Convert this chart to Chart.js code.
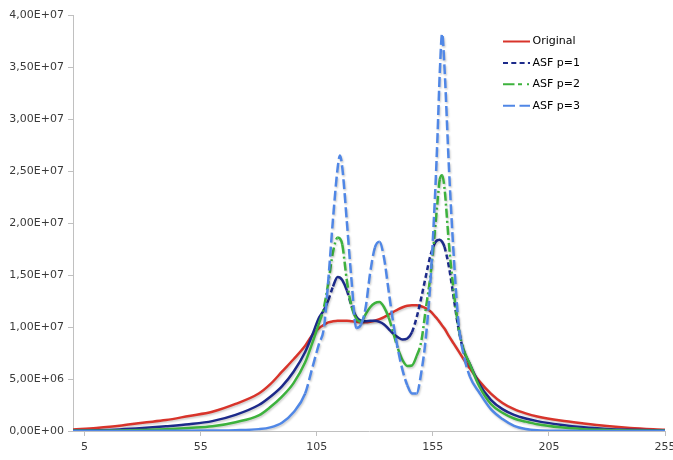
<!DOCTYPE html>
<html><head><meta charset="utf-8">
<script src="https://cdn.jsdelivr.net/npm/chart.js@4.4.1/dist/chart.umd.min.js"></script>
<style>
html,body{margin:0;padding:0;overflow:hidden;background:#fff;width:673px;height:460px}
#wrap{position:relative;width:690px;height:460px}
</style></head>
<body><div id="wrap"><canvas id="c" width="690" height="460"></canvas></div>
<script>
// ---- data ----
const xValues = [0,10,20,30,40,50,60,70,80,85,90,95,
  100,103,106,108,110,112,114,115,116,118,120,
  122,124,126,128,130,132,134,136,138,140,142,144,146,148,150,152,154,156,
  157,158,159,160,162,164,166,168,171,175,180,185,190,195,200,210,220,230,240,255];

const original = [0.15e6,0.3e6,0.5e6,0.8e6,1.05e6,1.45e6,1.85e6,2.6e6,3.6e6,4.5e6,5.7e6,6.9e6,
  8.2e6,9.2e6,9.9e6,10.2e6,10.45e6,10.55e6,10.6e6,10.6e6,10.6e6,10.6e6,10.55e6,
  10.5e6,10.45e6,10.45e6,10.5e6,10.6e6,10.75e6,10.95e6,11.2e6,11.45e6,11.7e6,11.9e6,12.05e6,12.1e6,12.1e6,12.0e6,11.8e6,11.5e6,11.0e6,
  10.75e6,10.45e6,10.15e6,9.85e6,9.1e6,8.4e6,7.7e6,7.0e6,6.0e6,4.8e6,3.6e6,2.7e6,2.1e6,1.7e6,1.4e6,1.0e6,0.72e6,0.48e6,0.3e6,0.12e6];

const asfP1 = [0.05e6,0.08e6,0.15e6,0.28e6,0.45e6,0.65e6,0.95e6,1.55e6,2.5e6,3.3e6,4.3e6,5.7e6,
  7.6e6,9.2e6,10.9e6,11.6e6,12.6e6,13.9e6,14.8e6,14.75e6,14.5e6,13.5e6,12.0e6,
  11.0e6,10.6e6,10.55e6,10.6e6,10.6e6,10.5e6,10.25e6,9.8e6,9.35e6,9.0e6,8.8e6,8.9e6,9.5e6,10.9e6,12.8e6,14.9e6,16.9e6,18.1e6,
  18.35e6,18.4e6,18.2e6,17.7e6,15.7e6,12.8e6,9.9e6,7.9e6,6.4e6,4.5e6,3.0e6,2.1e6,1.55e6,1.2e6,0.95e6,0.6e6,0.35e6,0.2e6,0.12e6,0.05e6];

const asfP2 = [0.02e6,0.03e6,0.05e6,0.1e6,0.18e6,0.3e6,0.45e6,0.85e6,1.5e6,2.3e6,3.3e6,4.6e6,
  6.6e6,8.4e6,10.4e6,11.8e6,14.3e6,17.2e6,18.6e6,18.5e6,17.9e6,14.4e6,11.95e6,
  10.8e6,10.5e6,11.2e6,11.9e6,12.3e6,12.4e6,11.9e6,10.9e6,9.4e6,7.9e6,6.8e6,6.25e6,6.3e6,7.2e6,8.6e6,11.8e6,15.0e6,19.5e6,
  22.0e6,24.2e6,24.6e6,23.4e6,17.8e6,13.4e6,10.0e6,8.0e6,6.4e6,4.3e6,2.6e6,1.75e6,1.2e6,0.9e6,0.65e6,0.35e6,0.18e6,0.1e6,0.05e6,0.02e6];

const asfP3 = [0,0,0,0.01e6,0.02e6,0.03e6,0.05e6,0.08e6,0.18e6,0.35e6,0.8e6,1.8e6,
  3.6e6,6.0e6,8.4e6,9.8e6,14.6e6,20.4e6,25.3e6,26.5e6,25.3e6,20.0e6,14.4e6,
  9.9e6,10.2e6,11.8e6,15.2e6,17.6e6,18.2e6,16.6e6,13.4e6,10.3e6,7.8e6,5.8e6,4.4e6,3.6e6,3.6e6,5.6e6,9.0e6,14.5e6,22.9e6,
  28.3e6,34.5e6,38.2e6,35.0e6,25.0e6,16.8e6,10.5e6,7.6e6,5.2e6,3.7e6,2.1e6,1.15e6,0.5e6,0.2e6,0.08e6,0.02e6,0,0,0,0];

const seriesNames = ['Original','ASF p=1','ASF p=2','ASF p=3'];
const xTickLabels = [5,55,105,155,205,255];
const yMin = 0, yMax = 4e7, yStep = 5e6;

// ---- helpers ----
function pts(ys){ return xValues.map((x,i)=>({x:x, y:ys[i]})); }
function fmtSci(v){
  if (v === 0) return '0,00E+00';
  const e = Math.floor(Math.log10(v) + 1e-9);
  const m = v / Math.pow(10, e);
  return m.toFixed(2).replace('.', ',') + 'E+' + String(e).padStart(2, '0');
}
function steepDash(dash, thr){
  return ctx => {
    const dx = Math.abs(ctx.p1.x - ctx.p0.x) || 1e-6;
    const dy = Math.abs(ctx.p1.y - ctx.p0.y);
    return (dy / dx > thr) ? dash : [];
  };
}

const FONT = '"DejaVu Sans", Verdana, sans-serif';
const styles = [
  {color:'#d8342b', dash:[], legend:[], thr:1e9, order:4},
  {color:'#1c2a8a', dash:[5,3], legend:[5,3.3], thr:2.6, order:3},
  {color:'#3db23d', dash:[9,3,2,3], legend:[11.5,3.5,4,5,2,3], thr:3.0, order:2},
  {color:'#5087e6', dash:[10,4], legend:[12,4.5], thr:3.0, order:1}
];
const series = [original, asfP1, asfP2, asfP3];

const datasets = series.map((s,i)=>({
  label: seriesNames[i],
  data: pts(s),
  borderColor: styles[i].color,
  backgroundColor: styles[i].color,
  borderWidth: 2.5,
  pointRadius: 0,
  fill: false,
  cubicInterpolationMode: 'monotone',
  order: styles[i].order,
  legendDash: styles[i].legend,
  segment: { borderDash: steepDash(styles[i].dash, styles[i].thr) }
}));

const shadowPlugin = {
  id: 'shadow',
  beforeDatasetsDraw(chart){
    const c = chart.ctx; c.save();
    c.shadowColor = 'rgba(0,0,0,0.2)'; c.shadowBlur = 2; c.shadowOffsetX = 1; c.shadowOffsetY = 1.5;
  },
  afterDatasetsDraw(chart){ chart.ctx.restore(); }
};

const legendPlugin = {
  id: 'customLegend',
  afterDraw(chart){
    const c = chart.ctx, a = chart.chartArea;
    c.save();
    chart.data.datasets.forEach((ds,i)=>{
      const y = a.top + 26.5 + i * 21.4;
      const x0 = a.right - 162;
      c.beginPath();
      c.setLineDash(ds.legendDash);
      c.strokeStyle = ds.borderColor;
      c.lineWidth = 2;
      c.moveTo(x0, y); c.lineTo(x0 + 27, y); c.stroke();
      c.setLineDash([]);
      c.fillStyle = '#000';
      c.font = '11px ' + FONT;
      c.textBaseline = 'middle';
      c.textAlign = 'left';
      c.fillText(ds.label, x0 + 29.5, y);
    });
    c.restore();
  }
};

new Chart(document.getElementById('c'), {
  type: 'line',
  data: { datasets: datasets },
  options: {
    responsive: false,
    animation: false,
    devicePixelRatio: 1,
    layout: { padding: { top: 15, right: 25, left: 0, bottom: 0 } },
    plugins: { legend: { display: false }, tooltip: { enabled: false } },
    scales: {
      x: {
        type: 'linear', min: 0, max: 255,
        afterBuildTicks: s => { s.ticks = xTickLabels.map(v => ({value: v})); },
        afterFit: s => { s.height = 29; },
        grid: { display: true, drawOnChartArea: false, drawTicks: true, tickLength: 5, color: '#c0c0c0' },
        border: { display: true, color: '#c0c0c0', width: 1 },
        ticks: { color: '#3a3a3a', font: { family: FONT, size: 11 }, padding: 5, maxRotation: 0, autoSkip: false,
                 callback: v => String(v) }
      },
      y: {
        min: yMin, max: yMax,
        afterFit: s => { s.width = 73; },
        grid: { display: true, drawOnChartArea: false, drawTicks: true, tickLength: 5, color: '#c0c0c0' },
        border: { display: true, color: '#c0c0c0', width: 1 },
        ticks: { stepSize: yStep, color: '#3a3a3a', font: { family: FONT, size: 11 }, padding: 4,
                 callback: v => fmtSci(v) }
      }
    }
  },
  plugins: [shadowPlugin, legendPlugin]
});
</script>
</body></html>
